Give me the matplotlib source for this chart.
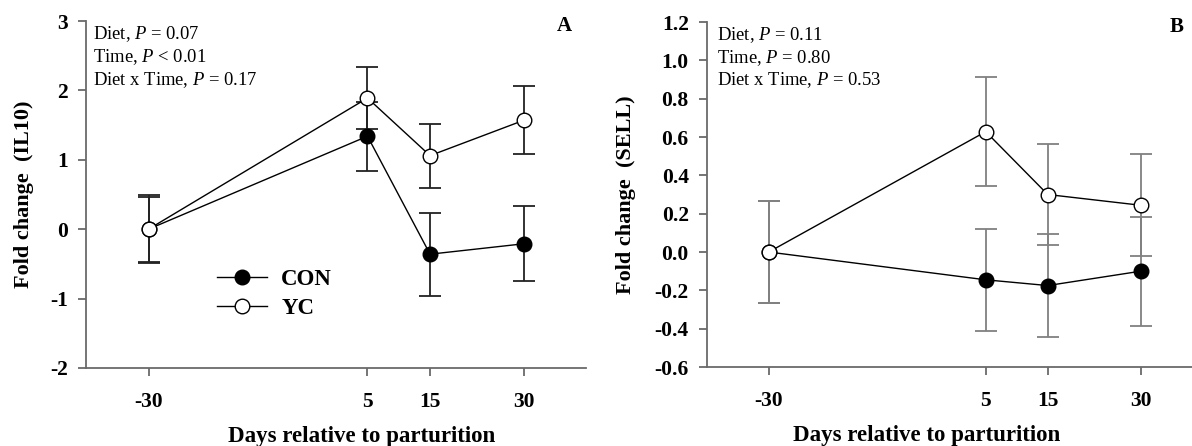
import matplotlib.pyplot as plt
import matplotlib.ticker as mticker
from matplotlib.lines import Line2D

# --- data ---
days = [-30, 5, 15, 30]

il10_con = [0.0, 1.34, -0.36, -0.21]
il10_con_err = [0.47, 0.50, 0.60, 0.54]
il10_yc = [0.0, 1.89, 1.06, 1.57]
il10_yc_err = [0.49, 0.45, 0.46, 0.49]

sell_con = [0.0, -0.145, -0.175, -0.10]
sell_con_err = [0.267, 0.267, 0.267, 0.285]
sell_yc = [0.0, 0.628, 0.30, 0.244]
sell_yc_err = [0.267, 0.284, 0.265, 0.266]

stats_a = ["Diet, $\\it{P}$ = 0.07", "Time, $\\it{P}$ < 0.01", "Diet x Time, $\\it{P}$ = 0.17"]
stats_b = ["Diet, $\\it{P}$ = 0.11", "Time, $\\it{P}$ = 0.80", "Diet x Time, $\\it{P}$ = 0.53"]

plt.rcParams['font.family'] = 'Liberation Serif'
plt.rcParams['mathtext.fontset'] = 'custom'
plt.rcParams['mathtext.it'] = 'Liberation Serif:italic'
plt.rcParams['mathtext.rm'] = 'Liberation Serif'
plt.rcParams['axes.unicode_minus'] = False

SPINE = '#6a6a6a'

fig = plt.figure(figsize=(11.92, 4.46), dpi=100)
ax_a = fig.add_axes([0.0721, 0.1749, 0.4199, 0.778])
ax_b = fig.add_axes([0.5929, 0.1771, 0.4161, 0.7735])


def draw_panel(ax, con, con_err, yc, yc_err, bar_col, cap_col):
    for vals, errs in [(con, con_err), (yc, yc_err)]:
        eb = ax.errorbar(days, vals, yerr=errs, fmt='none', ecolor=bar_col,
                         elinewidth=1.3, capsize=8, capthick=1.3, zorder=2)
        for cl in eb[1]:
            cl.set_color(cap_col)
    ax.plot(days, con, '-o', color='black', lw=1, ms=10.5, mfc='black',
            mec='black', mew=1, zorder=3)
    ax.plot(days, yc, '-o', color='black', lw=1, ms=10.5, mfc='white',
            mec='black', mew=1, zorder=4)

    ax.set_xlim(-40, 40)
    ax.set_xticks(days)
    for s in ['top', 'right']:
        ax.spines[s].set_visible(False)
    for s in ['left', 'bottom']:
        ax.spines[s].set_color(SPINE)
        ax.spines[s].set_linewidth(1.3)
    ax.tick_params(direction='out', length=6, width=1.3, color=SPINE,
                   labelsize=15.5)
    ax.tick_params(axis='x', pad=11)
    ax.tick_params(axis='y', pad=7)
    for lab in ax.get_xticklabels() + ax.get_yticklabels():
        lab.set_fontweight('bold')
    ax.set_xlabel('Days relative to parturition', fontsize=16.5, fontweight='bold')


# panel A
draw_panel(ax_a, il10_con, il10_con_err, il10_yc, il10_yc_err, '#222222', '#222222')
ax_a.set_ylim(-2, 3)
ax_a.set_yticks(range(-2, 4))
ax_a.set_yticklabels([str(v) for v in range(-2, 4)], fontweight='bold')
ax_a.set_ylabel('Fold change  (IL10)', fontsize=16, fontweight='bold')
ax_a.yaxis.set_label_coords(-0.104, 0.5)
ax_a.xaxis.set_label_coords(0.551, -0.166)
for i, t in enumerate(stats_a):
    ax_a.text(0.014, 0.9625 - i * 0.066, t, transform=ax_a.transAxes,
              fontsize=13.4, va='center', ha='left')
ax_a.text(0.956, 0.985, 'A', transform=ax_a.transAxes, fontsize=15,
          fontweight='bold', ha='center', va='center')

handles = [
    Line2D([], [], color='black', lw=1, marker='o', ms=10.5, mfc='black', mec='black'),
    Line2D([], [], color='black', lw=1, marker='o', ms=10.5, mfc='white', mec='black'),
]
ax_a.legend(handles, ['CON', 'YC'], loc='center left', bbox_to_anchor=(0.262, 0.213),
            frameon=False, handlelength=2.2, handletextpad=0.6, labelspacing=0.38,
            borderpad=0, borderaxespad=0,
            prop={'family': 'Liberation Serif', 'weight': 'bold', 'size': 16.5})

# panel B
draw_panel(ax_b, sell_con, sell_con_err, sell_yc, sell_yc_err, '#808080', '#333333')
ax_b.set_ylim(-0.6, 1.2)
ax_b.set_yticks([-0.6, -0.4, -0.2, 0.0, 0.2, 0.4, 0.6, 0.8, 1.0, 1.2])
ax_b.yaxis.set_major_formatter(mticker.FormatStrFormatter('%.1f'))
for lab in ax_b.get_yticklabels():
    lab.set_fontweight('bold')
ax_b.set_ylabel('Fold change  (SELL)', fontsize=16, fontweight='bold')
ax_b.yaxis.set_label_coords(-0.142, 0.5)
ax_b.xaxis.set_label_coords(0.443, -0.168)
for i, t in enumerate(stats_b):
    ax_b.text(0.02, 0.9625 - i * 0.066, t, transform=ax_b.transAxes,
              fontsize=13.4, va='center', ha='left')
ax_b.text(0.948, 0.985, 'B', transform=ax_b.transAxes, fontsize=15,
          fontweight='bold', ha='center', va='center')

plt.savefig('out.png', dpi=100)
